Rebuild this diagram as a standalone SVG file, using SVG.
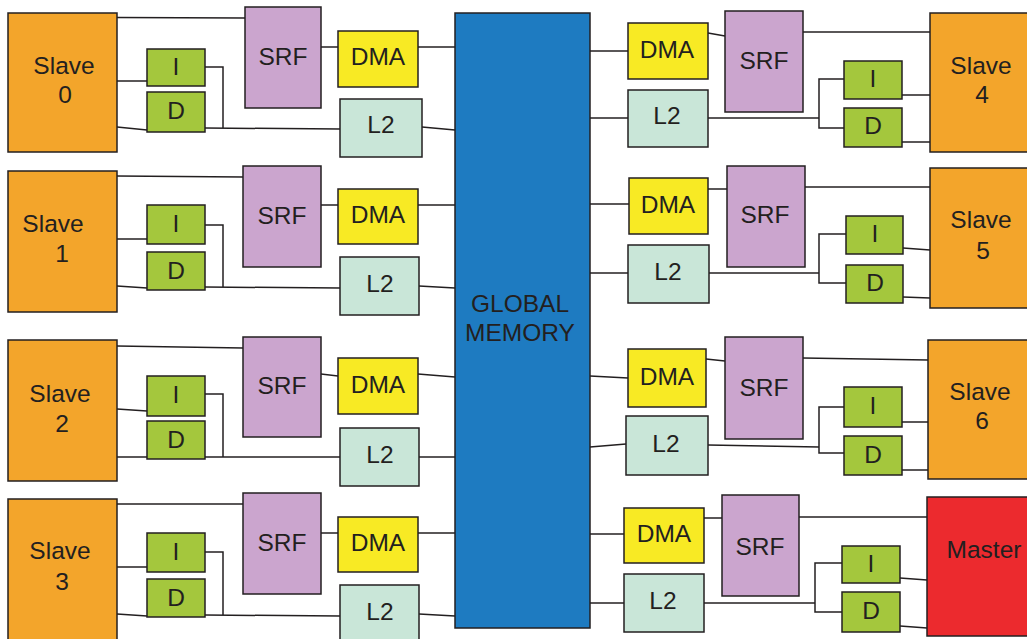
<svg xmlns="http://www.w3.org/2000/svg" width="1027" height="639" viewBox="0 0 1027 639">
<style>
rect{stroke:#231F20;stroke-width:1.5}
.sl{fill:#F3A52B}.ms{fill:#EC2A2E}.srf{fill:#CBA5CE}.dma{fill:#F8EA24}.l2{fill:#C9E6D8}.c{fill:#A4C73D}.gm{fill:#1E7BC1}
text{font-family:"Liberation Sans",Arial,sans-serif;font-size:24.5px;fill:#231F20;text-anchor:middle}
#connectors polyline{fill:none;stroke:#231F20;stroke-width:1.5}
</style>
<rect width="1027" height="639" fill="#fff" style="stroke:none"/>
<g id="connectors">
<polyline points="117,17.5 245,18"/><polyline points="117,81 147,81"/><polyline points="117,127 147,130"/>
<polyline points="205,67 223,67 223,128"/><polyline points="205,128 340,129"/>
<polyline points="321,47 338,47"/><polyline points="418,47 455,47"/><polyline points="422,127 455,130"/>
<polyline points="117,176 243,177"/><polyline points="117,239 147,239"/><polyline points="117,286 147,288"/>
<polyline points="205,225 223,225 223,287"/><polyline points="205,287 340,288"/>
<polyline points="321,205 338,205"/><polyline points="418,205 455,205"/><polyline points="419,286 455,288"/>
<polyline points="117,346 243,348"/><polyline points="117,409 147,411"/><polyline points="117,457 147,457"/>
<polyline points="205,394 223,394 223,457"/><polyline points="205,457 340,457"/>
<polyline points="321,374 338,376"/><polyline points="418,374 455,377"/><polyline points="419,457 455,457"/>
<polyline points="117,504 243,504"/><polyline points="117,567 147,567"/><polyline points="117,614 147,616"/>
<polyline points="205,552 223,552 223,615"/><polyline points="205,615 340,616"/>
<polyline points="321,533 338,533"/><polyline points="418,533 455,533"/><polyline points="419,614 455,616"/>
<polyline points="590,51 628,51"/><polyline points="590,118 628,118"/><polyline points="708,33 725,36"/>
<polyline points="803,32 930,32"/><polyline points="708,118 819,118"/><polyline points="844,79 819,79 819,128 844,128"/>
<polyline points="902,95 930,95"/><polyline points="902,142 930,142"/>
<polyline points="590,204 629,204"/><polyline points="590,273 628,273"/><polyline points="708,189 727,189"/>
<polyline points="805,187 930,187"/><polyline points="709,273 819,273"/><polyline points="846,234 819,234 819,283 846,283"/>
<polyline points="903,248 930,250"/><polyline points="903,297 930,298"/>
<polyline points="590,376 628,378"/><polyline points="590,447 626,444"/><polyline points="706,359 725,361"/>
<polyline points="803,358 928,360"/><polyline points="708,445 819,447"/><polyline points="844,407 819,407 819,453 844,453"/>
<polyline points="902,422 928,422"/><polyline points="902,470 928,470"/>
<polyline points="590,534 624,534"/><polyline points="590,603 624,603"/><polyline points="704,518 722,518"/>
<polyline points="799,517 927,517"/><polyline points="704,603 815,603"/><polyline points="842,563 815,563 815,612 842,612"/>
<polyline points="900,578 927,580"/><polyline points="900,626 927,628"/>
</g>
<g id="global-memory"><rect class="gm" x="455" y="13" width="135" height="615"/><text x="520" y="312">GLOBAL</text><text x="520" y="341">MEMORY</text></g>
<g id="slave0"><rect class="sl" x="8" y="13" width="109" height="139"/><text x="64" y="74">Slave</text><text x="65" y="103">0</text></g>
<g id="i0"><rect class="c" x="147" y="49" width="58" height="37"/><text x="176" y="75">I</text></g>
<g id="d0"><rect class="c" x="147" y="92" width="58" height="40"/><text x="176" y="119">D</text></g>
<g id="srf0"><rect class="srf" x="245" y="7" width="76" height="101"/><text x="283" y="65">SRF</text></g>
<g id="dma0"><rect class="dma" x="338" y="31" width="80" height="56"/><text x="378" y="65">DMA</text></g>
<g id="l2_0"><rect class="l2" x="340" y="99" width="82" height="58"/><text x="381" y="133">L2</text></g>
<g id="slave1"><rect class="sl" x="8" y="171" width="109" height="141"/><text x="53" y="232">Slave</text><text x="62" y="262">1</text></g>
<g id="i1"><rect class="c" x="147" y="205" width="58" height="39"/><text x="176" y="232">I</text></g>
<g id="d1"><rect class="c" x="147" y="252" width="58" height="38"/><text x="176" y="279">D</text></g>
<g id="srf1"><rect class="srf" x="243" y="166" width="78" height="101"/><text x="282" y="224">SRF</text></g>
<g id="dma1"><rect class="dma" x="338" y="189" width="80" height="55"/><text x="378" y="223">DMA</text></g>
<g id="l2_1"><rect class="l2" x="340" y="257" width="79" height="58"/><text x="380" y="292">L2</text></g>
<g id="slave2"><rect class="sl" x="8" y="340" width="109" height="141"/><text x="60" y="402">Slave</text><text x="62" y="432">2</text></g>
<g id="i2"><rect class="c" x="147" y="376" width="58" height="40"/><text x="176" y="403">I</text></g>
<g id="d2"><rect class="c" x="147" y="421" width="58" height="38"/><text x="176" y="448">D</text></g>
<g id="srf2"><rect class="srf" x="243" y="337" width="78" height="100"/><text x="282" y="394">SRF</text></g>
<g id="dma2"><rect class="dma" x="338" y="358" width="80" height="56"/><text x="378" y="393">DMA</text></g>
<g id="l2_2"><rect class="l2" x="340" y="428" width="79" height="58"/><text x="380" y="463">L2</text></g>
<g id="slave3"><rect class="sl" x="8" y="499" width="109" height="150"/><text x="60" y="559">Slave</text><text x="62" y="590">3</text></g>
<g id="i3"><rect class="c" x="147" y="533" width="58" height="39"/><text x="176" y="560">I</text></g>
<g id="d3"><rect class="c" x="147" y="579" width="58" height="38"/><text x="176" y="606">D</text></g>
<g id="srf3"><rect class="srf" x="243" y="493" width="78" height="101"/><text x="282" y="551">SRF</text></g>
<g id="dma3"><rect class="dma" x="338" y="517" width="80" height="55"/><text x="378" y="551">DMA</text></g>
<g id="l2_3"><rect class="l2" x="340" y="585" width="79" height="64"/><text x="380" y="620">L2</text></g>
<g id="dma4"><rect class="dma" x="628" y="23" width="80" height="56"/><text x="667" y="58">DMA</text></g>
<g id="l2_4"><rect class="l2" x="628" y="90" width="80" height="57"/><text x="667" y="124">L2</text></g>
<g id="srf4"><rect class="srf" x="725" y="11" width="78" height="101"/><text x="764" y="69">SRF</text></g>
<g id="i4"><rect class="c" x="844" y="61" width="58" height="38"/><text x="873" y="87">I</text></g>
<g id="d4"><rect class="c" x="844" y="108" width="58" height="39"/><text x="873" y="134">D</text></g>
<g id="slave4"><rect class="sl" x="930" y="13" width="110" height="139"/><text x="981" y="74">Slave</text><text x="982" y="103">4</text></g>
<g id="dma5"><rect class="dma" x="629" y="178" width="79" height="56"/><text x="668" y="213">DMA</text></g>
<g id="l2_5"><rect class="l2" x="628" y="245" width="81" height="58"/><text x="668" y="280">L2</text></g>
<g id="srf5"><rect class="srf" x="727" y="166" width="78" height="101"/><text x="765" y="223">SRF</text></g>
<g id="i5"><rect class="c" x="846" y="216" width="57" height="38"/><text x="875" y="242">I</text></g>
<g id="d5"><rect class="c" x="846" y="265" width="57" height="38"/><text x="875" y="291">D</text></g>
<g id="slave5"><rect class="sl" x="930" y="168" width="110" height="140"/><text x="981" y="228">Slave</text><text x="983" y="259">5</text></g>
<g id="dma6"><rect class="dma" x="628" y="349" width="78" height="58"/><text x="667" y="385">DMA</text></g>
<g id="l2_6"><rect class="l2" x="626" y="416" width="82" height="59"/><text x="666" y="452">L2</text></g>
<g id="srf6"><rect class="srf" x="725" y="337" width="78" height="102"/><text x="764" y="396">SRF</text></g>
<g id="i6"><rect class="c" x="844" y="387" width="58" height="40"/><text x="873" y="414">I</text></g>
<g id="d6"><rect class="c" x="844" y="436" width="58" height="39"/><text x="873" y="463">D</text></g>
<g id="slave6"><rect class="sl" x="928" y="340" width="112" height="139"/><text x="980" y="400">Slave</text><text x="982" y="429">6</text></g>
<g id="dma7"><rect class="dma" x="624" y="508" width="80" height="55"/><text x="664" y="542">DMA</text></g>
<g id="l2_7"><rect class="l2" x="624" y="574" width="80" height="58"/><text x="663" y="609">L2</text></g>
<g id="srf7"><rect class="srf" x="722" y="495" width="77" height="101"/><text x="760" y="555">SRF</text></g>
<g id="i7"><rect class="c" x="842" y="546" width="58" height="37"/><text x="871" y="572">I</text></g>
<g id="d7"><rect class="c" x="842" y="592" width="58" height="40"/><text x="871" y="619">D</text></g>
<g id="master"><rect class="ms" x="927" y="497" width="113" height="139"/><text x="984" y="558">Master</text></g>
</svg>
